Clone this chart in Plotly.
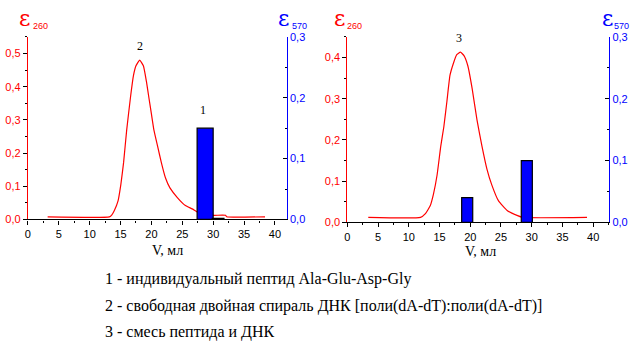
import plotly.graph_objects as go

# ---------------- data ----------------
# Left panel: free DNA double helix (curve 2) and individual peptide (bar 1)
v_left = [3.2, 13.2, 13.6, 14.0, 14.6, 15.05, 15.5, 16.0, 16.6, 17.1, 17.5, 18.1, 18.7,
          19.2, 19.6, 20.0, 20.4, 21.0, 21.6, 22.3, 23.0, 24.2, 25.5, 26.6, 27.4, 28.5,
          30.0, 32.0, 32.2, 38.4]
e260_left = [0.008, 0.008, 0.014, 0.027, 0.056, 0.105, 0.172, 0.27, 0.366, 0.434, 0.463,
             0.48, 0.463, 0.415, 0.366, 0.318, 0.27, 0.221, 0.172, 0.124, 0.095, 0.066,
             0.042, 0.032, 0.023, 0.017, 0.0125, 0.0125, 0.008, 0.008]
bar_v_left = [28.7, 30.8]
bar_w_left = [2.6, 1.9]
e570_left = [0.15, 0.002]

# Right panel: mixture of peptide and DNA (curve 3)
v_right = [3.4, 11.9, 12.7, 13.5, 14.0, 14.6, 15.2, 15.7, 16.2, 16.7, 17.3, 17.8, 18.4,
           19.0, 19.6, 20.3, 21.1, 21.9, 22.7, 23.5, 24.6, 26.0, 27.6, 28.6, 39.0]
e260_right = [0.012, 0.012, 0.021, 0.041, 0.068, 0.115, 0.185, 0.232, 0.294, 0.357, 0.388,
              0.407, 0.413, 0.404, 0.38, 0.325, 0.248, 0.185, 0.13, 0.091, 0.052, 0.029,
              0.017, 0.012, 0.012]
bar_v_right = [19.5, 29.2]
bar_w_right = [1.8, 1.8]
e570_right = [0.04, 0.1]

# tick labels
x_ticks = [0, 5, 10, 15, 20, 25, 30, 35, 40]
x_ticktext = ["0", "5", "10", "15", "20", "25", "30", "35", "40"]
yl_left_ticks = [0.0, 0.1, 0.2, 0.3, 0.4, 0.5]
yl_left_text = ["0,0", "0,1", "0,2", "0,3", "0,4", "0,5"]
yl_right_ticks = [0.0, 0.1, 0.2, 0.3, 0.4]
yl_right_text = ["0,0", "0,1", "0,2", "0,3", "0,4"]
yr_ticks = [0.0, 0.1, 0.2, 0.3]
yr_text = ["0,0", "0,1", "0,2", "0,3"]

legend_lines = [
    "1 - индивидуальный пептид Ala-Glu-Asp-Gly",
    "2 - свободная двойная спираль ДНК [поли(dA-dT):поли(dA-dT)]",
    "3 - смесь пептида и ДНК",
]

# ---------------- figure ----------------
W, H = 640, 352
def px(x):
    return x / W
def py(y):
    return 1 - y / H

RED = "#ff0000"
BLUE = "#0000ff"
TICKFONT = dict(family="Liberation Sans, Arial, sans-serif", size=11)
SERIF = "Liberation Serif, Times New Roman, serif"

fig = go.Figure()

fig.add_trace(go.Scatter(x=v_left, y=e260_left, mode="lines",
                         line=dict(color=RED, width=1.2, shape="spline", smoothing=0.4),
                         xaxis="x", yaxis="y", showlegend=False, hoverinfo="skip"))
fig.add_trace(go.Bar(x=bar_v_left, y=e570_left, width=bar_w_left,
                     marker=dict(color=[BLUE, "black"], line=dict(color="black", width=1.2)),
                     xaxis="x", yaxis="y2", showlegend=False, hoverinfo="skip"))
fig.add_trace(go.Scatter(x=v_right, y=e260_right, mode="lines",
                         line=dict(color=RED, width=1.2, shape="spline", smoothing=0.4),
                         xaxis="x2", yaxis="y3", showlegend=False, hoverinfo="skip"))
fig.add_trace(go.Bar(x=bar_v_right, y=e570_right, width=bar_w_right,
                     marker=dict(color=BLUE, line=dict(color="black", width=1.2)),
                     xaxis="x2", yaxis="y4", showlegend=False, hoverinfo="skip"))

def xaxis_cfg(domain, anchor, rng):
    return dict(domain=domain, anchor=anchor, range=rng,
                tickvals=x_ticks, ticktext=x_ticktext, ticks="outside", ticklen=4,
                tickcolor="black", tickwidth=1,
                minor=dict(dtick=2.5, tick0=0, ticks="outside", ticklen=2,
                           tickcolor="black", showgrid=False),
                showline=True, linecolor="black", linewidth=1.2,
                showgrid=False, zeroline=False, tickfont=dict(TICKFONT, color="black"))

def yleft_cfg(domain, anchor, rng, tv, tt):
    return dict(domain=domain, anchor=anchor, range=rng, tickvals=tv, ticktext=tt,
                ticks="outside", ticklen=4, tickcolor="black", tickwidth=1,
                minor=dict(dtick=0.05, tick0=0, ticks="outside", ticklen=2,
                           tickcolor="black", showgrid=False),
                showline=True, linecolor=RED, linewidth=1.2, showgrid=False,
                zeroline=False, tickfont=dict(TICKFONT, color=RED))

def yright_cfg(overlay, anchor, rng):
    return dict(overlaying=overlay, anchor=anchor, side="right", range=rng,
                tickvals=yr_ticks, ticktext=yr_text,
                ticks="inside", ticklen=4, tickcolor="black", tickwidth=1,
                minor=dict(dtick=0.05, tick0=0, ticks="inside", ticklen=2,
                           tickcolor="black", showgrid=False),
                showline=True, linecolor=BLUE, linewidth=1.2, showgrid=False,
                zeroline=False, tickfont=dict(TICKFONT, color=BLUE))

fig.update_layout(
    width=W, height=H, margin=dict(l=0, r=0, t=0, b=0),
    paper_bgcolor="white", plot_bgcolor="white",
    barmode="overlay",
    xaxis=xaxis_cfg([px(25), px(285)], "y", [0, 41.9]),
    yaxis=yleft_cfg([py(221), py(32)], "x", [0, 0.55], yl_left_ticks, yl_left_text),
    yaxis2=yright_cfg("y", "x", [0, 0.3]),
    xaxis2=xaxis_cfg([px(346), px(609)], "y3", [0, 42.6]),
    yaxis3=yleft_cfg([py(224), py(32)], "x2", [0, 0.45], yl_right_ticks, yl_right_text),
    yaxis4=yright_cfg("y3", "x2", [0, 0.3]),
)

ann = []
def txt(x, y, s, size, color="black", family=SERIF, xanchor="center", yanchor="middle",
        xref="paper", yref="paper"):
    ann.append(dict(x=x, y=y, xref=xref, yref=yref, text=s, showarrow=False,
                    font=dict(family=family, size=size, color=color),
                    xanchor=xanchor, yanchor=yanchor))

# axis titles (epsilon with subscripts)
for (ex, sx, col, sub) in [(22, 28, RED, "260"), (282, 288, BLUE, "570"),
                           (338, 344, RED, "260"), (607, 612, BLUE, "570")]:
    txt(px(ex), py(13), "ε", 22, col, family="DejaVu Serif")
    txt(px(sx), py(21), sub, 9, col, family=TICKFONT["family"], xanchor="left")

# peak labels
txt(18.1, 0.523, "2", 12, xref="x", yref="y")
txt(28.4, 0.18, "1", 12, xref="x", yref="y2")
txt(18.2, 0.447, "3", 12, xref="x2", yref="y3")

# x axis titles
txt(px(165), py(253), "V, мл", 14)
txt(px(480), py(254), "V, мл", 14)

# legend lines
for s, yy in zip(legend_lines, [283, 311, 337]):
    txt(px(100), py(yy), s, 16, xanchor="left")

fig.update_layout(annotations=ann)
fig.write_html("out.html")
